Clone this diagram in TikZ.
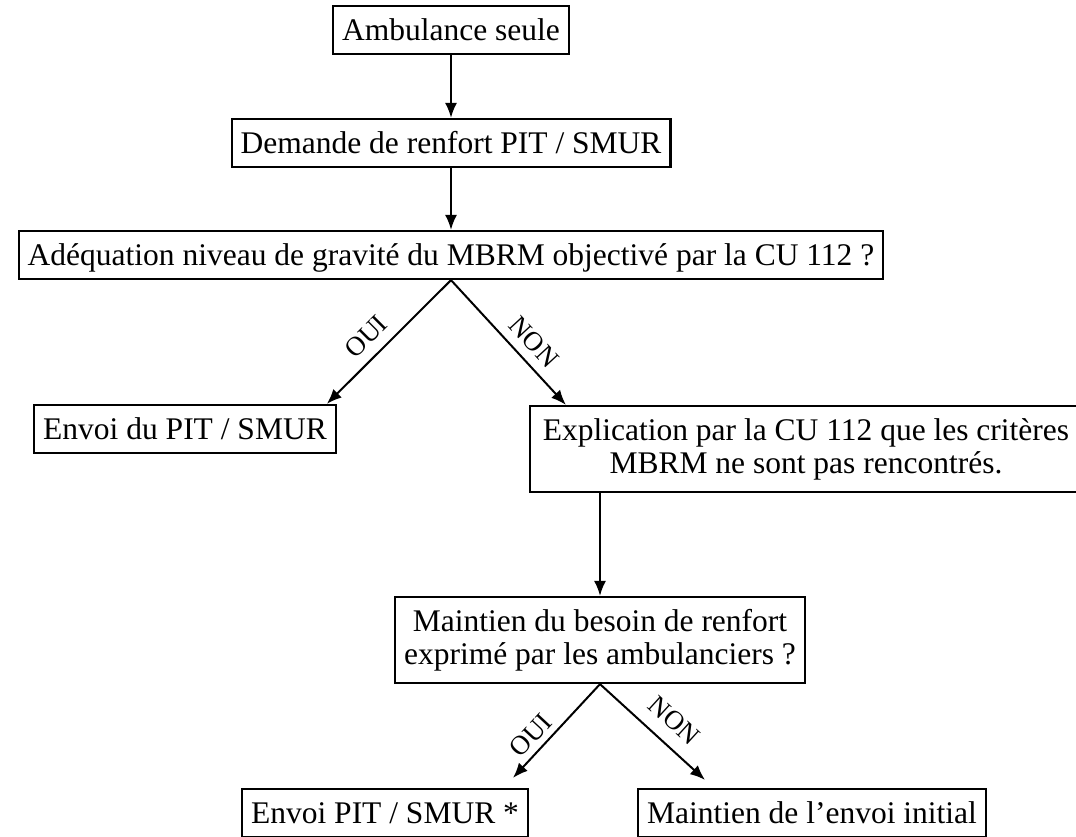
\documentclass[tikz,border=0pt]{standalone}
\usepackage{fontspec}
\setmainfont{Liberation Serif}
\usetikzlibrary{arrows.meta}
\usetikzlibrary{calc}
\newcommand{\flwsize}{\fontsize{31.5}{33}\selectfont}
\newcommand{\flwlblsize}{\fontsize{27}{28}\selectfont}

\begin{document}
\begin{tikzpicture}[x=1pt,y=-1pt,
    flwbox/.style={draw,line width=2.2pt,font=\flwsize,inner xsep=9pt,inner ysep=4pt},
    flwone/.style={flwbox,minimum height=48pt,text height=21pt,text depth=1pt},
    flwtwo/.style={flwbox,minimum height=86pt,align=center},
    flwarr/.style={line width=2pt,-{Latex[length=15pt,width=12pt]}},
    flwlbl/.style={font=\flwlblsize,sloped,inner sep=1pt}]
    \useasboundingbox (0,0) rectangle (1076,836);
    \clip (0,0) rectangle (1076,836);

    \node[flwone] (amb) at (451,30) {Ambulance seule};
    \node[flwone] (dem) at (451,143) {Demande de renfort PIT / SMUR};
    \node[flwone] (adeq) at (451,255)
      {Adéquation niveau de gravité du MBRM objectivé par la CU 112 ?};
    \node[flwone] (envoi) at (185,429) {Envoi du PIT / SMUR};
    \node[flwtwo,minimum width=552pt] (expl) at (806,449)
      {Explication par la CU 112 que les critères\\MBRM ne sont pas rencontrés.};
    \node[flwtwo] (maint) at (600,640)
      {Maintien du besoin de renfort\\exprimé par les ambulanciers ?};
    \node[flwone] (envpit) at (385,813) {Envoi PIT / SMUR *};
    \node[flwone] (init) at (812,813) {Maintien de l’envoi initial};

    \draw[flwarr] (amb) -- (dem);
    \draw[flwarr] (dem) -- (adeq);
    \draw[flwarr] (adeq.south)
      -- node[flwlbl,above=9pt,pos=0.57] {OUI} ($(envoi.north east)+(-10,0)$);
    \draw[flwarr] (adeq.south)
      -- node[flwlbl,above=8pt,pos=0.6] {NON} ($(expl.north west)+(37,0)$);
    \draw[flwarr] (expl.south -| maint.north) -- (maint.north);
    \draw[flwarr] (maint.south)
      -- node[flwlbl,above=5pt,pos=0.66] {OUI} ($(envpit.north)+(128,-10)$);
    \draw[flwarr] (maint.south)
      -- node[flwlbl,above=12pt,pos=0.56] {NON} ($(init.north)+(-107,-8)$);
  \end{tikzpicture}
\end{document}
